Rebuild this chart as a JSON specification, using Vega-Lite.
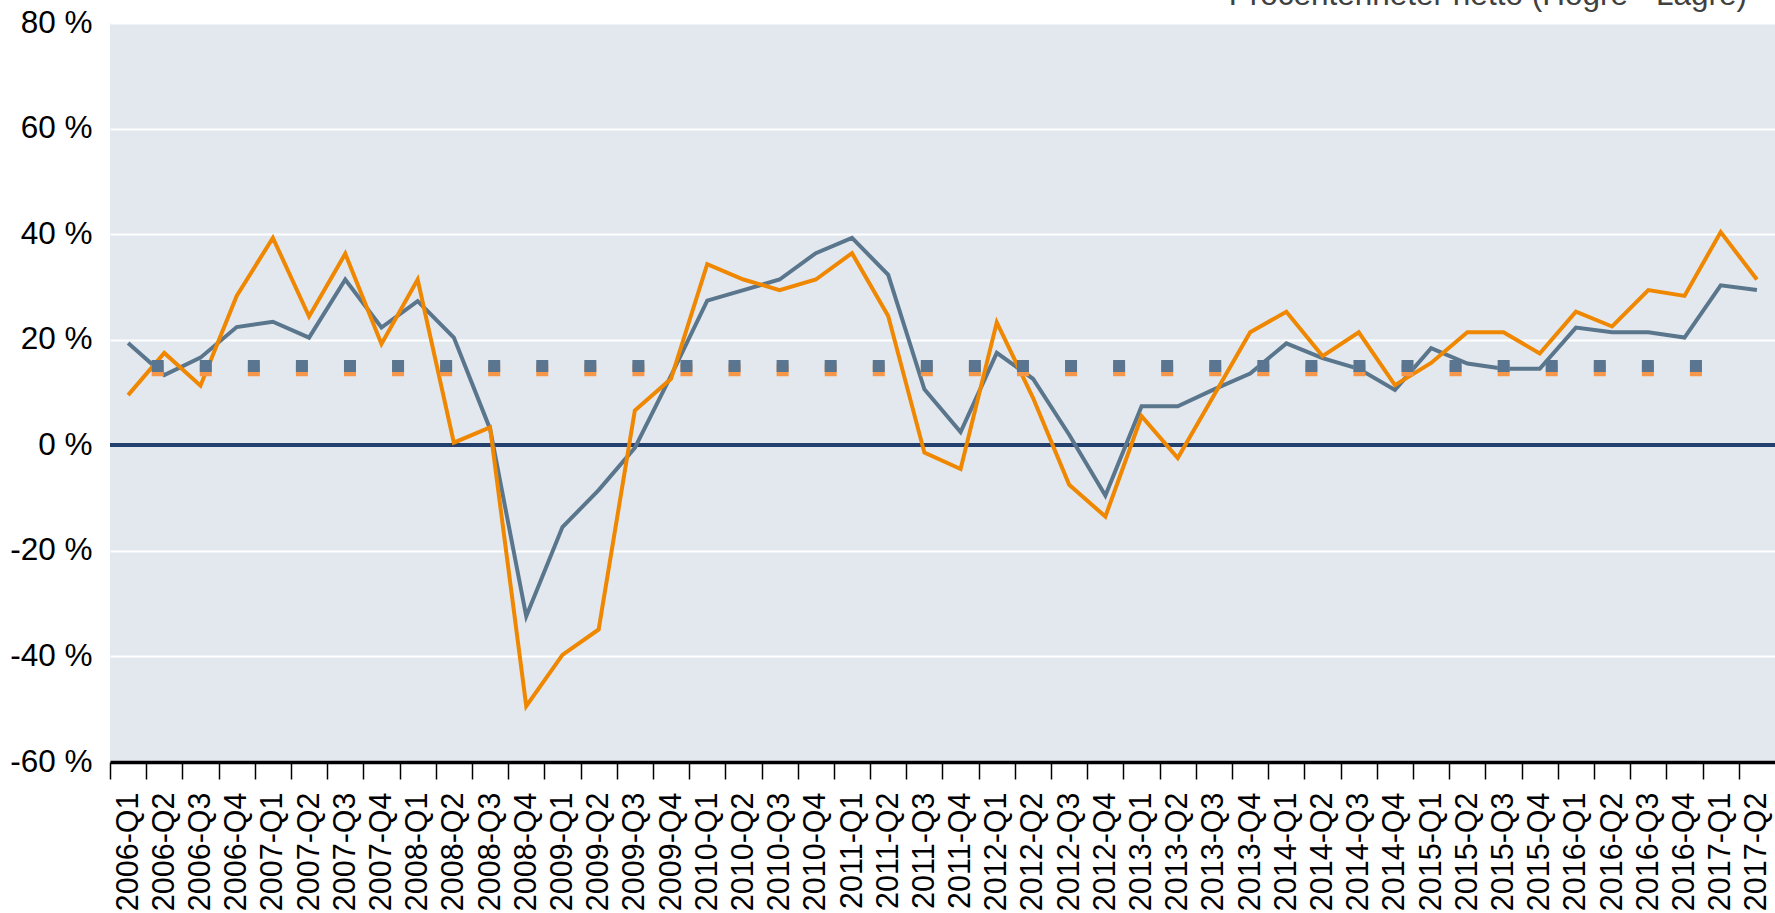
{
  "$schema": "https://vega.github.io/schema/vega-lite/v6.json",
  "width": 1665,
  "height": 739,
  "autosize": {"type": "none"},
  "padding": {"left": 110, "top": 23, "right": 0, "bottom": 151},
  "background": "white",
  "config": {
    "view": {"fill": "#E3E8EF", "stroke": null},
    "font": "Liberation Sans"
  },
  "title": {
    "text": "Procentenheter netto (Högre - Lägre)",
    "anchor": "end",
    "orient": "top",
    "frame": "group",
    "baseline": "alphabetic",
    "offset": 0,
    "dy": 29,
    "dx": -28,
    "fontSize": 31.5,
    "fontWeight": "normal",
    "color": "#404040",
    "font": "Liberation Sans"
  },
  "datasets": {
    "main": [
      {"q": "2006-Q1", "orange": 9.5, "blue": 19.4},
      {"q": "2006-Q2", "orange": 17.5, "blue": 13.3},
      {"q": "2006-Q3", "orange": 11.3, "blue": 16.6},
      {"q": "2006-Q4", "orange": 28.3, "blue": 22.4},
      {"q": "2007-Q1", "orange": 39.3, "blue": 23.4},
      {"q": "2007-Q2", "orange": 24.4, "blue": 20.4},
      {"q": "2007-Q3", "orange": 36.3, "blue": 31.4},
      {"q": "2007-Q4", "orange": 19.2, "blue": 22.3},
      {"q": "2008-Q1", "orange": 31.4, "blue": 27.3},
      {"q": "2008-Q2", "orange": 0.5, "blue": 20.4},
      {"q": "2008-Q3", "orange": 3.4, "blue": 3.1},
      {"q": "2008-Q4", "orange": -49.4, "blue": -32.4},
      {"q": "2009-Q1", "orange": -39.7, "blue": -15.5},
      {"q": "2009-Q2", "orange": -34.9, "blue": -8.5},
      {"q": "2009-Q3", "orange": 6.6, "blue": -0.5},
      {"q": "2009-Q4", "orange": 12.6, "blue": 13.2},
      {"q": "2010-Q1", "orange": 34.3, "blue": 27.4},
      {"q": "2010-Q2", "orange": 31.4, "blue": 29.4},
      {"q": "2010-Q3", "orange": 29.4, "blue": 31.4},
      {"q": "2010-Q4", "orange": 31.4, "blue": 36.4},
      {"q": "2011-Q1", "orange": 36.4, "blue": 39.3},
      {"q": "2011-Q2", "orange": 24.5, "blue": 32.3},
      {"q": "2011-Q3", "orange": -1.4, "blue": 10.6},
      {"q": "2011-Q4", "orange": -4.5, "blue": 2.5},
      {"q": "2012-Q1", "orange": 23.3, "blue": 17.5},
      {"q": "2012-Q2", "orange": 9.0, "blue": 12.6},
      {"q": "2012-Q3", "orange": -7.5, "blue": 2.0},
      {"q": "2012-Q4", "orange": -13.5, "blue": -9.5},
      {"q": "2013-Q1", "orange": 5.5, "blue": 7.4},
      {"q": "2013-Q2", "orange": -2.4, "blue": 7.4},
      {"q": "2013-Q3", "orange": 9.5, "blue": 10.6},
      {"q": "2013-Q4", "orange": 21.4, "blue": 13.6},
      {"q": "2014-Q1", "orange": 25.3, "blue": 19.3},
      {"q": "2014-Q2", "orange": 16.9, "blue": 16.5},
      {"q": "2014-Q3", "orange": 21.4, "blue": 14.5},
      {"q": "2014-Q4", "orange": 11.4, "blue": 10.5},
      {"q": "2015-Q1", "orange": 15.6, "blue": 18.4},
      {"q": "2015-Q2", "orange": 21.4, "blue": 15.5},
      {"q": "2015-Q3", "orange": 21.4, "blue": 14.5},
      {"q": "2015-Q4", "orange": 17.4, "blue": 14.5},
      {"q": "2016-Q1", "orange": 25.3, "blue": 22.3},
      {"q": "2016-Q2", "orange": 22.5, "blue": 21.4},
      {"q": "2016-Q3", "orange": 29.4, "blue": 21.4},
      {"q": "2016-Q4", "orange": 28.3, "blue": 20.4},
      {"q": "2017-Q1", "orange": 40.4, "blue": 30.3},
      {"q": "2017-Q2", "orange": 31.4, "blue": 29.4}
    ],
    "avg": [
      {"q": "2006-Q1", "orange": 14.2, "blue": 15.0},
      {"q": "2017-Q1", "orange": 14.2, "blue": 15.0}
    ]
  },
  "encoding": {
    "x": {
      "field": "q",
      "type": "ordinal",
      "sort": null,
      "scale": {"type": "point", "padding": 0.5},
      "axis": {
        "title": null,
        "labelAngle": -90,
        "labelAlign": "right",
        "labelBaseline": "middle",
        "labelFontSize": 30.5,
        "labelColor": "#000000",
        "labelFont": "Liberation Sans",
        "labelOverlap": false,
        "labelPadding": 13,
        "tickSize": 17,
        "tickColor": "#000000",
        "tickWidth": 1.5,
        "tickOffset": -18.098,
        "labelOffset": 18.098,
        "domainColor": "#000000",
        "domainWidth": 3.5,
        "grid": false
      }
    }
  },
  "layer": [
    {
      "data": {"name": "main"},
      "mark": {"type": "rule", "color": "#24406E", "strokeWidth": 3},
      "encoding": {
        "x": null,
        "y": {
          "datum": 0,
          "type": "quantitative",
          "scale": {"domain": [-60, 80], "nice": false, "zero": false},
          "axis": {
            "title": null,
            "values": [-60, -40, -20, 0, 20, 40, 60, 80],
            "labelExpr": "datum.value + ' %'",
            "labelFontSize": 31.5,
            "labelColor": "#000000",
            "labelFont": "Liberation Sans",
            "labelPadding": 18,
            "ticks": false,
            "domain": false,
            "grid": true,
            "gridColor": "#FFFFFF",
            "gridWidth": 2,
            "gridOpacity": 1
          }
        }
      }
    },
    {
      "data": {"name": "main"},
      "mark": {"type": "line", "color": "#5A768C", "strokeWidth": 4, "strokeJoin": "miter"},
      "encoding": {
        "y": {"field": "blue", "type": "quantitative"}
      }
    },
    {
      "data": {"name": "main"},
      "mark": {"type": "line", "color": "#EF8700", "strokeWidth": 4, "strokeJoin": "miter"},
      "encoding": {
        "y": {"field": "orange", "type": "quantitative"}
      }
    },
    {
      "data": {"name": "avg"},
      "mark": {"type": "line", "color": "#F79646", "strokeWidth": 12, "strokeCap": "butt", "strokeDash": [12, 36.07], "strokeDashOffset": 24.47},
      "encoding": {
        "y": {"field": "orange", "type": "quantitative"}
      }
    },
    {
      "data": {"name": "avg"},
      "mark": {"type": "line", "color": "#5A7590", "strokeWidth": 12, "strokeCap": "butt", "strokeDash": [12, 36.07], "strokeDashOffset": 24.47},
      "encoding": {
        "y": {"field": "blue", "type": "quantitative"}
      }
    }
  ]
}
